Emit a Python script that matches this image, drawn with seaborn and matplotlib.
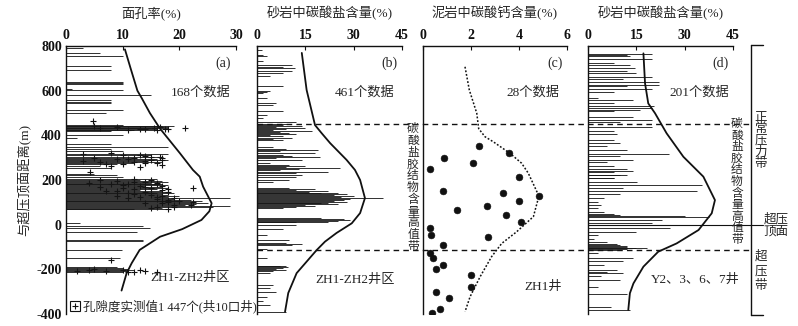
import matplotlib
matplotlib.use("Agg")
import matplotlib.pyplot as plt
import seaborn as sns
from matplotlib.lines import Line2D
from matplotlib.transforms import blended_transform_factory

# ---- (a) 面孔率 ----
a_bar_depth = [790, 769, 754, 712, 694, 639, 634, 630, 608, 602, 579, 556, 550, 546, 515, 501,
               446, 443, 440, 437, 434, 431, 428, 425, 422, 419,
               400, 386, 363, 349, 340, 330, 317, 310, 305, 300, 295, 290, 285, 280, 275, 270, 262, 255,
               228, 222, 212, 205, 200, 196, 192, 188, 184, 180, 176, 172, 168, 164, 160, 156, 152, 148,
               144, 140, 136, 132, 128, 124, 120, 116, 112, 108, 104, 100, 96, 92, 88, 84, 80, 76, 72, 68,
               7, -6, -17, -32, -70, -73, -113, -149, -190, -194, -198, -202, -206, -210]
a_bar_value = [3, 6, 10, 8, 8, 10, 10, 10, 1, 10, 15, 8, 8, 8, 10, 7,
               10, 17, 19, 18, 15, 18, 16, 12, 16, 8,
               10, 2, 8, 18, 8, 10, 18, 15, 17, 12, 16, 18, 14, 17, 12, 9, 6, 8,
               5, 9, 10, 16, 13, 17, 18, 15, 17, 16, 18, 14, 17, 18, 16, 13, 17, 18,
               16, 19, 17, 18, 20, 18, 29, 19, 22, 24, 20, 22, 25, 23, 21, 29, 26, 17, 18, 12,
               2.5, 13.6, 14.8, 12.5, 13.6, 13.6, 9.9, 9.6, 9, 10, 11, 12, 11, 10]
a_plus_depth = [464, 440, 436, 432, 432, 430, 428, 428, 426, 434, 438, 430, 426,
                320, 315, 312, 308, 305, 300, 300, 298, 292, 290, 288, 286, 282, 280, 278, 275, 272, 265, 262, 260,
                296, 284, 270, 310, 302,
                234, 205, 200, 198, 195, 190, 188, 185, 182, 180, 175, 172, 170, 165, 162, 165, 158, 155, 150,
                148, 145, 140, 135, 130, 128, 125, 120, 115, 110, 105, 100, 95, 90, 100, 80, 75, 70,
                192, 184, 176, 168, 160, 152, 144, 136, 126, 118, 108, 96, 86, 78,
                -156, -205, -208, -205, -210, -206, -212, -203, -208, -200, -214]
a_plus_value = [4.8, 5, 16.5, 6, 21, 17.5, 18, 14, 11, 15.5, 9, 13, 16,
                8, 3, 10, 14, 16.5, 17, 5, 12, 9, 15, 17, 3, 6, 12, 16, 14, 10, 17, 8, 13,
                11, 14, 7, 13, 15,
                4.2, 12, 6, 15, 9, 14, 4, 16, 11, 8, 13, 17, 6, 10, 15, 22.4, 12, 17, 7,
                14, 18, 11, 15, 9, 17, 13, 19, 16, 18, 20, 18, 17, 22, 22.4, 19, 15, 18,
                12, 16, 10, 14, 18, 9, 15, 12, 16, 11, 17, 14, 19, 16,
                8, 4, 7, 10, 12, 14, 16, 13, 2, 5, 11]
a_curve_depth = [785, 700, 600, 565, 500, 430, 320, 245, 215, 170, 96, 60, 21, -20, -54, -113, -172, -217, -295]
a_curve_value = [10.4, 11.4, 12.6, 13.4, 14.8, 16.6, 20.1, 22.4, 23.6, 24.2, 25.7, 25.3, 23.9, 20.5, 16.6, 13.0, 11.6, 10.7, 9.8]

# ---- (b) 砂岩中碳酸盐含量 ZH1-ZH2 ----
b_bar_depth = [782, 760, 755, 733, 713, 708, 701, 688, 678, 667, 621, 600, 594, 590, 567, 545, 535, 509, 491, 478,
               460, 450, 446, 442, 438, 433, 429, 425, 420, 416, 411, 406, 400, 395, 389, 384, 379,
               348, 340, 334, 328, 320, 314, 309, 303, 297, 290, 275, 268, 263, 258, 254, 249, 243, 236, 230,
               222, 213, 200, 190,
               164, 160, 156, 152, 148, 144, 140, 136, 132, 128, 124, 119, 115, 111, 107, 103, 99, 95, 91, 87,
               83, 79, 75,
               30, 26, 22, 18, 14, 10, -2, -20, -46, -69, -84, -87, -90, -109, -149,
               -183, -187, -190, -194, -198, -203, -207, -217, -270, -284, -301, -324, -342, -360, -391]
b_bar_value = [1.5, 2, 3, 2, 11, 8, 11.8, 10.8, 8, 4, 8, 4, 3, 2, 3, 6, 5, 8, 3, 2,
               12, 10, 8, 14, 6, 15, 9, 5, 17, 7, 10, 12, 4, 8, 11, 5, 8,
               5, 9, 19, 7, 18, 8, 11, 19.6, 6, 14, 4, 10, 15, 9, 25.8, 13, 7, 22, 12,
               14, 12, 10, 5,
               10, 18, 12, 22, 16, 25, 20, 28, 24, 30, 26, 39, 29, 27, 24, 28, 22, 20, 25, 15,
               18, 12, 8,
               20, 27, 29, 25, 22, 12, 12, 8, 3, 10, 9, 14, 11, 3, 3,
               7, 9, 9.6, 8, 6, 9, 5, 4, 5, 4, 6, 3, 2, 4, 9]
b_curve_depth = [769, 603, 446, 409, 365, 290, 245, 200, 119, 52, 6, -37, -76, -114, -217, -306, -390]
b_curve_value = [13.9, 15.4, 18.0, 20.1, 22.7, 27.8, 30.4, 32.0, 33.5, 32.0, 29.4, 24.7, 21.1, 18.5, 12.3, 9.7, 8.7]

# ---- (c) 泥岩中碳酸钙含量 ZH1井 ----
c_depth = [354, 319, 297, 275, 248, 215, 151, 140, 128, 107, 64, 85, 42, 11,
           -16, -46, -57, -92, -126, -151, -181, -197, -227, -281, -302, -327, -379, -397]
c_value = [2.35, 3.6, 0.89, 2.07, 0.29, 4.0, 0.85, 3.35, 4.83, 4.0, 1.43, 2.65, 3.46, 4.08,
           0.29, 0.33, 2.72, 0.82, 0.29, 0.4, 0.82, 0.53, 2.0, 2.0, 0.53, 1.1, 0.71, 0.36]
c_curve_depth = [707, 603, 499, 430, 394, 371, 319, 275, 230, 128, 36, -32, -84, -143, -233, -323, -390]
c_curve_value = [1.75, 1.93, 2.24, 2.32, 2.58, 2.93, 3.63, 4.11, 4.39, 4.83, 4.6, 3.9, 3.28, 2.86, 2.38, 1.96, 1.75]

# ---- (d) 砂岩中碳酸盐含量 Y2、3、6、7井 ----
d_bar_depth = [764, 760, 755, 740, 725, 715, 700, 690, 678, 663, 651, 641, 626, 619, 607, 596, 567, 559,
               545, 530, 521, 515, 507, 482, 470, 458, 437, 418, 406, 381, 366, 351, 336, 318, 306, 291,
               279, 261, 249, 239, 224, 209, 237, 222, 207, 192, 177, 162, 150, 137, 118, 103, 88, 73, 58,
               46, 43, 39, 33, 21, 6, -17, -32, -47, -62, -77, -88, -91, -95, -99, -103, -106, -110, -114,
               -129, -151, -162, -181, -204, -211, -218, -230, -248, -281, -311, -368, -383, -405]
d_bar_value = [19.9, 12, 13, 20, 8, 13, 14.7, 12, 15, 20, 11, 22, 22, 12, 20, 8, 3, 14,
               8, 20.4, 20, 16, 8, 14, 20, 10, 20, 8, 9, 8, 10, 6, 12, 25, 10, 14,
               6, 8, 12, 14, 10, 8, 8, 12, 8, 15.2, 35.4, 11, 33.8, 10, 5, 3, 4, 3, 5,
               8, 10, 30, 37.5, 23, 20, 25.5, 15, 3, 2, 6, 9, 10, 12, 12, 15, 18.3, 12, 10,
               3, 14, 11, 5, 9, 6, 11, 4, 10, 3, 12, 7, 13, 1]
d_curve_depth = [767, 633, 543, 499, 409, 304, 215, 110, 51, -24, -84, -121, -188, -263, -307, -382]
d_curve_value = [17.2, 17.7, 18.7, 20.8, 24.4, 29.6, 35.8, 39.4, 38.4, 34.3, 27.5, 21.8, 17.2, 14.1, 13.0, 12.5]

x_titles = ["面孔率(%)", "砂岩中碳酸盐含量(%)", "泥岩中碳酸钙含量(%)", "砂岩中碳酸盐含量(%)"]
x_ticks = [[0, 10, 20, 30], [0, 15, 30, 45], [0, 2, 4, 6], [0, 15, 30, 45]]
panel_tags = ["(a)", "(b)", "(c)", "(d)"]
count_text = ["168个数据", "461个数据", "28个数据", "201个数据"]
area_text = ["ZH1-ZH2井区", "ZH1-ZH2井区", "ZH1井", "Y2、3、6、7井"]
band_text = "碳酸盐胶结物含量高值带"

sns.set_style("white")
plt.rcParams['font.family'] = ['Liberation Serif', 'Noto Sans CJK SC']
plt.rcParams['axes.unicode_minus'] = False

W, H = 798, 326
fig = plt.figure(figsize=(W / 100, H / 100), dpi=100)
lefts = [66, 257, 423, 588]
rights = [236, 402, 567, 733]
top_px, bot_px = 46, 314
axes = []
for l, r in zip(lefts, rights):
    ax = fig.add_axes([l / W, 1 - bot_px / H, (r - l) / W, (bot_px - top_px) / H])
    axes.append(ax)

ink = "#111111"
bar_ink = "#161616"
axa, axb, axc, axd = axes

axa.hlines(a_bar_depth, 0, a_bar_value, color=bar_ink, lw=0.62)
sns.scatterplot(x=a_plus_value, y=a_plus_depth, marker="+", s=22, color=ink, linewidth=0.8, ax=axa)
axa.plot(a_curve_value, a_curve_depth, color=ink, lw=1.3)

axb.hlines(b_bar_depth, 0, b_bar_value, color=bar_ink, lw=0.62)
axb.plot(b_curve_value, b_curve_depth, color=ink, lw=1.3)

sns.scatterplot(x=c_value, y=c_depth, color=ink, s=24, edgecolor=ink, ax=axc)
axc.plot(c_curve_value, c_curve_depth, color=ink, lw=1.1, ls=(0, (1.2, 1.2)))

axd.hlines(d_bar_depth, 0, d_bar_value, color=bar_ink, lw=0.62)
axd.plot(d_curve_value, d_curve_depth, color=ink, lw=1.3)

for i, ax in enumerate(axes):
    ax.set_xlim(x_ticks[i][0], x_ticks[i][-1])
    ax.set_ylim(-400, 800)
    ax.set_xticks(x_ticks[i])
    ax.set_yticks(range(-400, 801, 200))
    ax.xaxis.tick_top()
    ax.xaxis.set_label_position("top")
    ax.set_xlabel(x_titles[i], fontsize=9.5, labelpad=8)
    ax.tick_params(direction="in", length=3, width=0.8, labelsize=10, pad=3, colors=ink)
    for lab in ax.get_xticklabels() + ax.get_yticklabels():
        lab.set_fontweight("bold")
    if i > 0:
        ax.set_yticklabels([])
    for s in ["right", "bottom"]:
        ax.spines[s].set_visible(False)
    for s in ["top", "left"]:
        ax.spines[s].set_color(ink)
        ax.spines[s].set_linewidth(1.0)
    ax.text(0.97, 0.935, panel_tags[i], transform=ax.transAxes, ha="right", va="center", fontsize=10)
    cx = [0.79, 0.745, 0.76, 0.77][i]
    ax.text(cx, 0.828, count_text[i], transform=ax.transAxes, ha="center", va="center", fontsize=9.5)
    ax.text([0.73, 0.676, 0.833, 0.74][i], [0.134, 0.127, 0.10, 0.127][i], area_text[i],
            transform=ax.transAxes, ha="center", va="center", fontsize=9.5)

axa.set_ylabel("与超压顶面距离(m)", fontsize=9.5, labelpad=4)

# legend of the porosity plus markers
axa.plot([0.05], [0.03], marker="s", ms=7, mfc="white", mec=ink, mew=0.8, transform=axa.transAxes, clip_on=False)
axa.plot([0.05], [0.03], marker="+", ms=5, color=ink, mew=0.8, transform=axa.transAxes, clip_on=False)
axa.text(0.1, 0.03, "孔隙度实测值1 447个(共10口井)", transform=axa.transAxes, ha="left", va="center",
         fontsize=9, clip_on=False)

# dashed boundaries of the high-carbonate band
tb = blended_transform_factory(fig.transFigure, axb.transData)
for yv in [450, -115]:
    fig.add_artist(Line2D([257 / W, 750 / W], [yv, yv], transform=tb, color=ink, lw=1.0, ls=(0, (4, 3))))

vert = "\n".join(band_text)
fig.text(413 / W, 1 - 188 / H, vert, ha="center", va="center", fontsize=8.5, linespacing=0.98)
fig.text(737 / W, 1 - 182 / H, vert, ha="center", va="center", fontsize=8.5, linespacing=0.95)

# pressure-zone bracket on the right
td = blended_transform_factory(fig.transFigure, axd.transData)
fig.add_artist(Line2D([751 / W, 751 / W], [805, -405], transform=td, color=ink, lw=1.0))
for yv in [805, -405]:
    fig.add_artist(Line2D([751 / W, 763 / W], [yv, yv], transform=td, color=ink, lw=1.0))
fig.add_artist(Line2D([588 / W, 763 / W], [0, 0], transform=td, color=ink, lw=0.8))
fig.text(761 / W, 1 - 141 / H, "\n".join("正常压力带"), ha="center", va="center", fontsize=9, linespacing=0.95)
fig.text(761 / W, 1 - 271 / H, "\n".join("超压带"), ha="center", va="center", fontsize=9, linespacing=1.3)
fig.text(776 / W, 1 - 225 / H, "超压\n顶面", ha="center", va="center", fontsize=9, linespacing=1.0)

fig.savefig("out.png", dpi=100)
